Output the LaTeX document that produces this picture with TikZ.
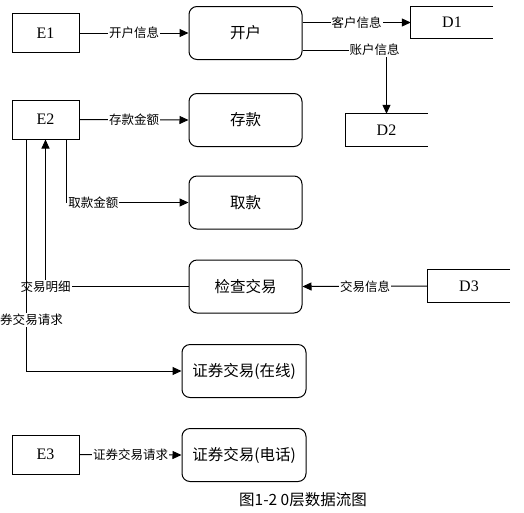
\documentclass[tikz,border=0pt]{standalone}
\usepackage{fontspec}
\setmainfont{Liberation Serif}
\newfontfamily\cjk{Noto Sans CJK SC}
\usetikzlibrary{calc, arrows.meta}

\begin{document}
\begin{tikzpicture}[x=1pt,y=-1pt,
	ent/.style={draw,line width=1pt,minimum width=67pt,minimum height=39pt,font=\fontsize{16}{16}\selectfont},
	proc/.style={draw,line width=1pt,rounded corners=8pt,minimum width=113pt,minimum height=53pt,font=\cjk\fontsize{15.5}{15.5}\selectfont},
	store/.style={minimum width=82pt,minimum height=32pt,font=\fontsize{16}{16}\selectfont},
	lab/.style={fill=white,inner sep=1pt,font=\cjk\fontsize{12.5}{12.5}\selectfont},
	flow/.style={->,>={Triangle[length=9pt,width=8pt]},line width=1pt}]
		\useasboundingbox (0,0) rectangle (524,512);
		% 外部实体
		\node[ent](E1)at(45.5,33){E1};
		\node[ent](E2)at(45.5,119.5){E2};
		\node[ent](E3)at(45.5,454.5){E3};
		% 处理
		\node[proc](Open)at(245.5,33){开户};
		\node[proc](Deposit)at(245.5,120){存款};
		\node[proc](Withdraw)at(245.5,202.5){取款};
		\node[proc](Check)at(245.5,286.5){检查交易};
		\node[proc,minimum width=124pt](Online)at(244,371){证券交易(在线)};
		\node[proc,minimum width=124pt](Phone)at(244,455){证券交易(电话)};
		% 数据存储
		\node[store](D1)at(452,22.5){D1};
		\node[store](D2)at(386.5,130){D2};
		\node[store](D3)at(469,286){D3};
		\foreach \d in {D1,D2,D3}
			\draw[line width=1pt] (\d.north east)--(\d.north west)--(\d.south west)--(\d.south east);
		% 数据流
		\draw[flow] (E1.east)--(Open.west) node[lab,midway]{开户信息};
		\draw[flow] (Open.east|-D1.west)--(D1.west) node[lab,midway]{客户信息};
		\draw[flow] ($(Open.east)+(0,17)$)-|(D2.north) node[lab,pos=0.43]{账户信息};
		\draw[flow] (E2.east)--(Deposit.west) node[lab,midway]{存款金额};
		\draw[flow] ($(E2.south east)+(-13,0)$)|-(Withdraw.west) node[lab,pos=0.61]{取款金额};
		\draw[flow] (Check.west)-|(E2.south) node[lab,pos=0.5]{交易明细};
		\draw[flow] ($(E2.south west)+(15,0)$)|-(Online.west) node[lab,pos=0.39,xshift=5]{券交易请求};
		\draw[flow] (D3.west)--(Check.east) node[lab,midway]{交易信息};
		\draw[flow] (E3.east)--(Phone.west) node[lab,midway]{证券交易请求};
		% 图题
		\node[font=\cjk\fontsize{15.5}{15.5}\selectfont](title)at(303,500){图1-2 0层数据流图};
\end{tikzpicture}
\end{document}
